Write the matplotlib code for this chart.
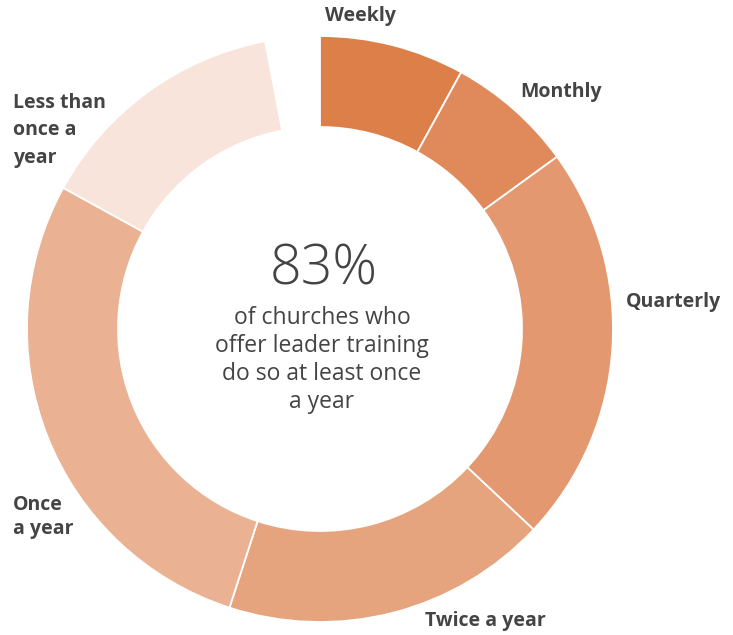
import matplotlib
matplotlib.use("Agg")
import matplotlib.pyplot as plt

# Frequency of leader training among churches that offer it (percent)
categories = ["Weekly", "Monthly", "Quarterly", "Twice a year", "Once a year", "Less than once a year"]
values = [8, 7, 22, 18, 28, 14]
unreported = 3  # share left blank at the top of the ring
colors = ["#DD7F48", "#E08A5C", "#E3986F", "#E6A47E", "#EAB193", "#F8E4DB"]
headline = "83%"
subtitle = "of churches who\noffer leader training\ndo so at least once\na year"

# label text, anchor positions (pixel coordinates, left aligned) and line spacing
label_text = ["Weekly", "Monthly", "Quarterly", "Twice a year", "Once\na year", "Less than\nonce a\nyear"]
label_pos = [(325, 16), (520, 92), (626, 302), (425, 621), (13, 517), (13, 130)]
label_spacing = [1.4, 1.4, 1.4, 1.4, 1.25, 1.5]

W, H = 733, 635
fig = plt.figure(figsize=(W / 100, H / 100), dpi=100)
ax = fig.add_axes([0, 0, 1, 1])

cx, cy = 320, H - 329
r_out, ring = 293, 91

wedges, _ = ax.pie(
    values + [unreported],
    colors=colors + ["none"],
    startangle=90,
    counterclock=False,
    radius=r_out,
    center=(cx, cy),
    wedgeprops=dict(width=ring, edgecolor="white", linewidth=1.3),
    frame=True,
)
wedges[-1].set_visible(False)
ax.set_xlim(0, W)
ax.set_ylim(0, H)
ax.set_aspect("equal")
ax.axis("off")

font = "Open Sans"
for txt, (x, y), ls in zip(label_text, label_pos, label_spacing):
    ax.text(x, H - y, txt, ha="left", va="center", fontsize=14,
            fontweight="bold", color="#444444", family=font, linespacing=ls)

ax.text(cx + 4, H - 270, headline, ha="center", va="center", fontsize=40,
        fontweight="light", color="#444444", family=font)
ax.text(cx + 2, H - 360, subtitle, ha="center", va="center", fontsize=16.5,
        color="#444444", family=font, linespacing=1.22)

fig.savefig("out.png", dpi=100)
